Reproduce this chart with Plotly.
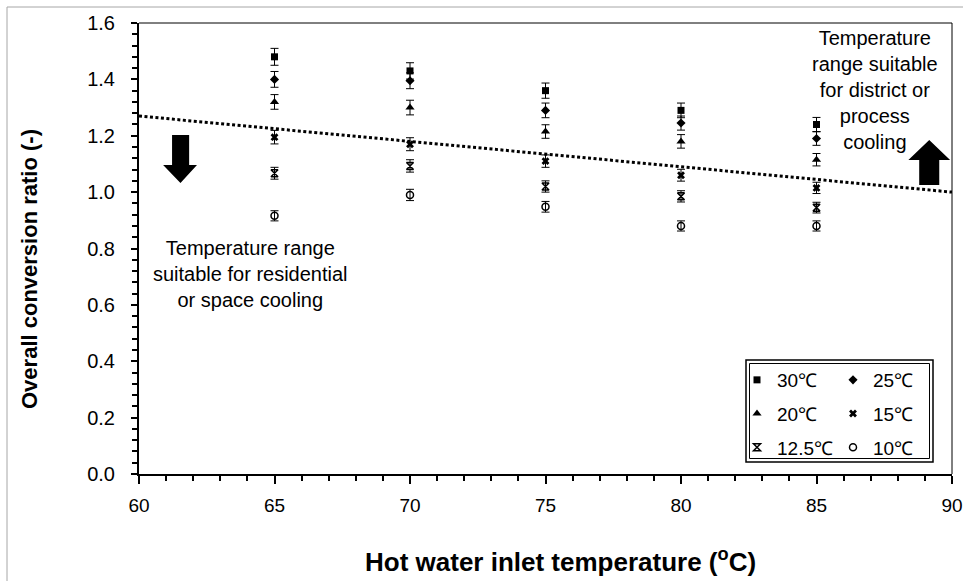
import plotly.graph_objects as go

# ---------------- data ----------------
inlet_temp = [65, 70, 75, 80, 85]

ratio_30 = [1.48, 1.43, 1.36, 1.29, 1.24]
ratio_25 = [1.40, 1.395, 1.29, 1.245, 1.19]
ratio_20 = [1.32, 1.30, 1.215, 1.18, 1.115]
ratio_15 = [1.195, 1.17, 1.11, 1.06, 1.015]
ratio_125 = [1.067, 1.093, 1.02, 0.985, 0.945]
ratio_10 = [0.916, 0.99, 0.948, 0.88, 0.88]

err_30 = [0.030, 0.029, 0.027, 0.026, 0.025]
err_25 = [0.028, 0.028, 0.026, 0.025, 0.024]
err_20 = [0.026, 0.026, 0.024, 0.024, 0.022]
err_15 = [0.024, 0.023, 0.022, 0.021, 0.020]
err_125 = [0.021, 0.022, 0.020, 0.020, 0.019]
err_10 = [0.018, 0.020, 0.019, 0.018, 0.018]

series_names = ["30℃", "25℃", "20℃", "15℃", "12.5℃", "10℃"]

trend_x = [60, 90]
trend_y = [1.27, 1.00]

FONT = "Liberation Sans, Arial, sans-serif"

fig = go.Figure()

fig.add_trace(go.Scatter(
    x=trend_x, y=trend_y, mode="lines",
    line=dict(color="black", width=3, dash="3px,2.5px"),
    showlegend=False, hoverinfo="skip"))

styles = [
    (ratio_30, err_30, dict(symbol="square", size=7, color="black"), "legend"),
    (ratio_25, err_25, dict(symbol="diamond", size=7, color="black"), "legend2"),
    (ratio_20, err_20, dict(symbol="triangle-up", size=8, color="black"), "legend"),
    (ratio_15, err_15, dict(symbol="x", size=7, color="black",
                            line=dict(width=0)), "legend2"),
    (ratio_125, err_125, dict(symbol="hourglass-open", size=7, color="black",
                              line=dict(width=1.5, color="black")), "legend"),
    (ratio_10, err_10, dict(symbol="circle-open", size=7, color="black",
                            line=dict(width=1.5, color="black")), "legend2"),
]

for (vals, errs, mk, lg), name in zip(styles, series_names):
    fig.add_trace(go.Scatter(
        x=inlet_temp, y=vals, mode="markers", name=name,
        marker=mk,
        error_y=dict(type="data", array=errs, visible=True,
                     color="black", thickness=1, width=4),
        legend=lg, legendgroup=name))

def px_x(p):
    return (p - 139) / 813.0

def px_y(p):
    return (474 - p) / 451.0

shapes = []
# top and right thin border of plot area
shapes.append(dict(type="line", xref="paper", yref="paper", x0=0, x1=1, y0=1, y1=1,
                   line=dict(color="black", width=1)))
shapes.append(dict(type="line", xref="paper", yref="paper", x0=1, x1=1, y0=0, y1=1,
                   line=dict(color="black", width=1)))
# outer gray frame
shapes.append(dict(type="rect", xref="paper", yref="paper",
                   x0=px_x(7), x1=px_x(1000), y0=px_y(620), y1=px_y(7),
                   line=dict(color="#a6a6a6", width=1), layer="below"))
# legend double box
shapes.append(dict(type="rect", xref="paper", yref="paper",
                   x0=px_x(746), x1=px_x(933), y0=px_y(462), y1=px_y(360),
                   line=dict(color="black", width=1.5), fillcolor="white", layer="below"))
shapes.append(dict(type="rect", xref="paper", yref="paper",
                   x0=px_x(749.5), x1=px_x(929.5), y0=px_y(458.5), y1=px_y(363.5),
                   line=dict(color="black", width=1)))
# arrows
shapes.append(dict(type="path", xref="x", yref="y",
                   path="M 61.22,1.203 L 61.85,1.203 L 61.85,1.096 L 62.14,1.096 "
                        "L 61.53,1.032 L 60.89,1.096 L 61.22,1.096 Z",
                   fillcolor="black", line=dict(color="black", width=0)))
shapes.append(dict(type="path", xref="x", yref="y",
                   path="M 88.79,1.025 L 89.53,1.025 L 89.53,1.114 L 89.93,1.114 "
                        "L 89.16,1.185 L 88.39,1.114 L 88.79,1.114 Z",
                   fillcolor="black", line=dict(color="black", width=0)))

annotations = [
    dict(x=64.1, y=0.709, xref="x", yref="y", showarrow=False,
         text="Temperature range<br>suitable for residential<br>or space cooling",
         font=dict(family=FONT, size=20, color="black"), align="center"),
    dict(x=87.16, y=1.362, xref="x", yref="y", showarrow=False,
         text="Temperature<br>range suitable<br>for district or<br>process<br>cooling",
         font=dict(family=FONT, size=20, color="black"), align="center"),
    # axis titles
    dict(x=px_x(560), y=px_y(560), xref="paper", yref="paper", showarrow=False,
         xanchor="center", yanchor="middle",
         text="<b>Hot water inlet temperature (<sup>o</sup>C)</b>",
         font=dict(family=FONT, size=26, color="black")),
    dict(x=px_x(29), y=px_y(269), xref="paper", yref="paper", showarrow=False,
         xanchor="center", yanchor="middle", textangle=-90,
         text="<b>Overall conversion ratio (-)</b>",
         font=dict(family=FONT, size=22, color="black")),
]

fig.update_layout(
    width=963, height=581,
    margin=dict(l=139, r=11, t=23, b=107, autoexpand=False),
    paper_bgcolor="white", plot_bgcolor="white",
    font=dict(family=FONT, size=20, color="black"),
    shapes=shapes, annotations=annotations,
    legend=dict(x=px_x(737), y=px_y(361), xanchor="left", yanchor="top",
                bgcolor="rgba(0,0,0,0)", borderwidth=0, tracegroupgap=6,
                font=dict(family=FONT, size=19, color="black")),
    legend2=dict(x=px_x(833), y=px_y(361), xanchor="left", yanchor="top",
                 bgcolor="rgba(0,0,0,0)", borderwidth=0, tracegroupgap=6,
                 font=dict(family=FONT, size=19, color="black")),
)

fig.update_xaxes(
    range=[60, 90], dtick=5, tick0=60, showgrid=False, zeroline=False,
    showline=True, linecolor="black", linewidth=2,
    ticks="outside", ticklen=8, tickwidth=1.5, tickcolor="black",
    minor=dict(dtick=1, ticks="outside", ticklen=5, tickwidth=1.5, tickcolor="black"),
    tickfont=dict(family=FONT, size=19),
    ticklabelstandoff=5,
)
fig.update_yaxes(
    range=[0, 1.6], dtick=0.2, tick0=0, tickformat=".1f", showgrid=False, zeroline=False,
    showline=True, linecolor="black", linewidth=2,
    ticks="outside", ticklen=6, tickwidth=1.5, tickcolor="black",
    minor=dict(dtick=0.04, ticks="outside", ticklen=5, tickwidth=1.5, tickcolor="black"),
    tickfont=dict(family=FONT, size=20),
    ticklabelstandoff=12,
)

fig.write_html("out.html")
